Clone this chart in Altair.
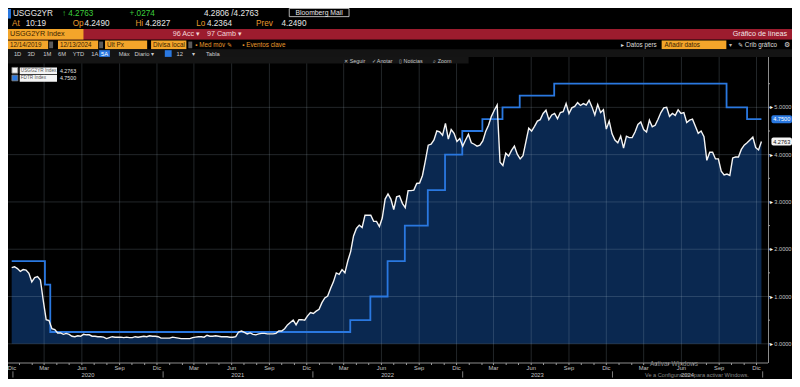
import altair as alt
import pandas as pd

# ---------------------------------------------------------------- data
# USGG2YR Index (2-year Treasury yield), weekly readings from 13 Dec 2019
usgg2yr_2019 = [1.61, 1.63, 1.59]
usgg2yr_2020 = [1.53, 1.57, 1.56, 1.49, 1.31,
                1.40, 1.42, 1.35, 0.91,
                0.51, 0.49, 0.32, 0.30,
                0.23, 0.23, 0.20, 0.22,
                0.20, 0.16, 0.15, 0.17, 0.16,
                0.20, 0.19, 0.19, 0.16,
                0.16, 0.15, 0.15, 0.14, 0.11,
                0.13, 0.15, 0.14, 0.14,
                0.14, 0.13, 0.14, 0.13,
                0.13, 0.15, 0.14, 0.15, 0.16,
                0.15, 0.17, 0.16, 0.16,
                0.15, 0.12, 0.12, 0.12]
usgg2yr_2021 = [0.12, 0.14, 0.13, 0.12, 0.11,
                0.11, 0.11, 0.11, 0.13,
                0.14, 0.15, 0.15, 0.14,
                0.18, 0.16, 0.16, 0.17, 0.16,
                0.15, 0.15, 0.15, 0.14,
                0.14, 0.15, 0.25, 0.27,
                0.24, 0.21, 0.23, 0.20, 0.19,
                0.21, 0.22, 0.22, 0.21,
                0.21, 0.21, 0.22, 0.27,
                0.27, 0.32, 0.40, 0.45, 0.50,
                0.40, 0.51, 0.51, 0.50,
                0.59, 0.66, 0.64, 0.69, 0.73]
usgg2yr_2022 = [0.87, 0.97, 1.01, 1.17,
                1.31, 1.50, 1.47, 1.57,
                1.50, 1.75, 1.95, 2.28,
                2.44, 2.51, 2.46, 2.72, 2.72,
                2.72, 2.59, 2.59, 2.48,
                2.66, 3.06, 3.17, 3.06,
                2.84, 3.11, 3.13, 2.97, 2.88,
                3.24, 3.24, 3.25, 3.39,
                3.40, 3.56, 3.87, 4.20, 4.22,
                4.31, 4.50, 4.48, 4.41,
                4.66, 4.33, 4.53, 4.45,
                4.28, 4.34, 4.18, 4.31, 4.43]
usgg2yr_2023 = [4.25, 4.22, 4.18, 4.20,
                4.29, 4.49, 4.62, 4.81,
                4.94, 5.05, 3.84, 3.77, 4.03,
                3.97, 4.09, 4.18, 4.01,
                3.91, 3.98, 4.27, 4.56,
                4.50, 4.60, 4.71, 4.74, 4.87,
                4.94, 4.74, 4.84, 4.87,
                4.76, 4.89, 4.91, 5.08,
                4.87, 4.99, 5.02, 5.10, 5.04,
                5.08, 5.05, 5.15, 5.01,
                4.84, 5.06, 4.89, 4.95,
                4.54, 4.71, 4.44, 4.31, 4.25]
usgg2yr_2024 = [4.39, 4.14, 4.39, 4.36,
                4.36, 4.48, 4.64, 4.69,
                4.53, 4.48, 4.73, 4.59, 4.62,
                4.75, 4.89, 4.99, 5.00,
                4.81, 4.87, 4.83, 4.95, 4.87,
                4.89, 4.68, 4.73, 4.75,
                4.60, 4.45, 4.50, 4.38,
                3.88, 4.05, 4.05, 3.91, 3.91,
                3.65, 3.57, 3.59, 3.56,
                3.93, 3.95, 3.95, 4.11,
                4.20, 4.25, 4.31, 4.37, 4.15,
                4.10, 4.2763]
usgg2yr = usgg2yr_2019 + usgg2yr_2020 + usgg2yr_2021 + usgg2yr_2022 + usgg2yr_2023 + usgg2yr_2024
usgg2yr_dates = pd.date_range("2019-12-13", periods=len(usgg2yr), freq="7D")

# FDTR Index (Fed funds target, upper bound) – change dates and levels
fdtr_dates = ["2019-12-13", "2020-03-03", "2020-03-16", "2022-03-17", "2022-05-05",
              "2022-06-16", "2022-07-28", "2022-09-22", "2022-11-03", "2022-12-15",
              "2023-02-02", "2023-03-23", "2023-05-04", "2023-07-27", "2024-09-19",
              "2024-11-08", "2024-12-13"]
fdtr_values = [1.75, 1.25, 0.25, 0.50, 1.00, 1.75, 2.50, 3.25, 4.00, 4.50,
               4.75, 5.00, 5.25, 5.50, 5.00, 4.75, 4.75]

last_usgg2yr = 4.2763
last_fdtr = 4.7500

month_names = ["Ene", "Feb", "Mar", "Abr", "May", "Jun", "Jul", "Ago", "Sep", "Oct", "Nov", "Dic"]
label_years = [2020, 2021, 2022, 2023, 2024]
y_label_values = [0, 1, 2, 3, 4, 5]
y_tick_values = [0, 0.5, 1, 1.5, 2, 2.5, 3, 3.5, 4, 4.5, 5, 5.5]

# ---------------------------------------------------------------- layout
W, H = 784, 371
SX, SY = W / 800.0, H / 387.0
TOP = round(51 * SY)
PW = round(776 * SX)
PH = round(370 * SY) - TOP
RIGHT = W - PW
BOTTOM = H - TOP - PH
FONT = "Liberation Sans"


def px(x):
    return x * SX


def py(y):
    return y * SY - TOP


ONE = pd.DataFrame({"k": [0]})

xscale = alt.Scale(domain=[alt.DateTime(year=2019, month=12, date=4),
                           alt.DateTime(year=2024, month=12, date=29)])
yscale = alt.Scale(domain=[-0.406, 6.065], nice=False, zero=False)


def X(f):
    return alt.X(f, type="temporal", scale=xscale, axis=None)


def Y(f):
    return alt.Y(f, type="quantitative", scale=yscale, axis=None)


def txt(x, y, s, color="#e6e6e6", size=7.0, align="left", weight="normal"):
    return alt.Chart(ONE).mark_text(text=s, align=align, baseline="middle", color=color,
                                    fontSize=size, fontWeight=weight, font=FONT).encode(
        x=alt.value(px(x)), y=alt.value(py(y)))


def box(x0, y0, x1, y1, fill, stroke="", radius=0):
    kw = {}
    if stroke:
        kw["stroke"] = stroke
        kw["strokeWidth"] = 0.8
    return alt.Chart(ONE).mark_rect(color=fill, cornerRadius=radius, **kw).encode(
        x=alt.value(px(x0)), x2=alt.value(px(x1)), y=alt.value(py(y0)), y2=alt.value(py(y1)))


# ---------------------------------------------------------------- tables
yield_df = pd.DataFrame({"date": usgg2yr_dates, "value": usgg2yr})
fdtr_df = pd.DataFrame({"date": pd.to_datetime(fdtr_dates), "value": fdtr_values})

quarter_rows = []
for yr in [2020, 2021, 2022, 2023, 2024]:
    for m in [3, 6, 9, 12]:
        quarter_rows.append({"date": pd.Timestamp(year=yr, month=m, day=1), "label": month_names[m - 1]})
quarter_df = pd.DataFrame(quarter_rows)
month_df = pd.DataFrame({"date": pd.date_range("2020-01-01", "2024-12-01", freq="MS")})
year_lab_df = pd.DataFrame({"date": [pd.Timestamp(year=y, month=6, day=16) for y in label_years],
                            "label": [str(y) for y in label_years]})
year_sep_df = pd.DataFrame({"date": [pd.Timestamp(year=y, month=12, day=16) for y in range(2019, 2025)]})
ylab_df = pd.DataFrame({"v": y_label_values, "label": ["%.4f" % v for v in y_label_values]})
ytick_df = pd.DataFrame({"v": y_tick_values})
tags_df = pd.DataFrame({"v": [last_fdtr, last_usgg2yr],
                        "label": ["%.4f" % last_fdtr, "%.4f" % last_usgg2yr],
                        "kind": ["fdtr", "usgg"]})

layers = []

# area under the yield
layers.append(alt.Chart(yield_df).mark_area(color="#0a2850", opacity=1).encode(
    x=X("date"), y=Y("value"), y2=alt.value(PH)))

# grid
layers.append(alt.Chart(quarter_df).mark_rule(color="#a8bccf", opacity=0.2, strokeWidth=1).encode(
    x=X("date"), y=alt.value(0), y2=alt.value(PH)))
layers.append(alt.Chart(ylab_df).mark_rule(color="#a8bccf", opacity=0.2, strokeWidth=1).encode(
    y=Y("v"), x=alt.value(0), x2=alt.value(PW)))

# lines
layers.append(alt.Chart(fdtr_df).mark_line(interpolate="step-after", color="#2a78e0", strokeWidth=1.8).encode(
    x=X("date"), y=Y("value")))
layers.append(alt.Chart(yield_df).mark_line(color="#f4f4f4", strokeWidth=1.4).encode(
    x=X("date"), y=Y("value")))

# x axis (manual)
layers.append(alt.Chart(ONE).mark_rule(color="#8c8c8c", strokeWidth=1).encode(
    x=alt.value(0), x2=alt.value(PW), y=alt.value(PH)))
layers.append(alt.Chart(month_df).mark_rule(color="#9a9a9a", strokeWidth=1).encode(
    x=X("date"), y=alt.value(PH), y2=alt.value(PH + 2)))
layers.append(alt.Chart(quarter_df).mark_text(color="#c4c4c4", fontSize=5.8, font=FONT, baseline="middle").encode(
    x=X("date"), y=alt.value(py(375.5)), text="label:N"))
layers.append(txt(4, 375.5, "Dic", color="#c4c4c4", size=5.8, align="center"))
layers.append(alt.Chart(year_lab_df).mark_text(color="#c4c4c4", fontSize=5.8, font=FONT, baseline="middle").encode(
    x=X("date"), y=alt.value(py(382.5)), text="label:N"))
layers.append(alt.Chart(year_sep_df).mark_rule(color="#9a9a9a", strokeWidth=0.8).encode(
    x=X("date"), y=alt.value(py(379)), y2=alt.value(py(385.5))))

# y axis on the right (manual)
layers.append(alt.Chart(ONE).mark_rule(color="#8c8c8c", strokeWidth=1).encode(
    x=alt.value(PW + 0.5), y=alt.value(0), y2=alt.value(PH)))
layers.append(alt.Chart(ytick_df).mark_rule(color="#9a9a9a", strokeWidth=1).encode(
    y=Y("v"), x=alt.value(PW), x2=alt.value(PW + 2)))
layers.append(alt.Chart(ylab_df).mark_text(text="▸", color="#ffffff", fontSize=5.5, font=FONT,
                                           align="left", baseline="middle").encode(
    y=Y("v"), x=alt.value(px(778))))
layers.append(alt.Chart(ylab_df).mark_text(color="#c4c4c4", fontSize=5.6, font=FONT,
                                           align="left", baseline="middle").encode(
    y=Y("v"), x=alt.value(px(782)), text="label:N"))

# last-value tags on the right axis
tag_base = alt.Chart(tags_df).transform_calculate(lo="datum.v - 0.085", hi="datum.v + 0.085")
layers.append(tag_base.transform_filter("datum.kind == 'fdtr'").mark_rect(color="#2a78e0", cornerRadius=2).encode(
    y=Y("lo:Q"), y2="hi:Q", x=alt.value(px(779)), x2=alt.value(px(800))))
layers.append(tag_base.transform_filter("datum.kind == 'usgg'").mark_rect(color="#f4f4f4", cornerRadius=2).encode(
    y=Y("lo:Q"), y2="hi:Q", x=alt.value(px(779)), x2=alt.value(px(800))))
layers.append(tag_base.transform_filter("datum.kind == 'fdtr'").mark_text(color="#ffffff", fontSize=5.6, font=FONT, align="center", baseline="middle").encode(
    y=Y("v:Q"), x=alt.value(px(789.5)), text="label:N"))
layers.append(tag_base.transform_filter("datum.kind == 'usgg'").mark_text(color="#111111", fontSize=5.6, font=FONT, align="center", baseline="middle").encode(
    y=Y("v:Q"), x=alt.value(px(789.5)), text="label:N"))

# ---------------------------------------------------------------- header
ORANGE = "#f3a52a"
AMBER = "#e89a2c"
GREEN = "#3ccf3c"
DARK = "#3a2200"

layers += [
    box(0, 0, 800, 22, "#000000"),
    box(0, 1, 3, 11, "#2a78e0"),
    txt(5, 6, "USGG2YR", size=8.2),
    txt(55, 6, "↑ 4.2763", color=GREEN, size=8.2),
    txt(124, 6, "+.0274", color=GREEN, size=8.2),
    txt(200, 6, "4.2806 /4.2763", size=8.2),
    box(287, 0.5, 348, 9, "#000000", stroke="#dddddd"),
    txt(317.5, 5, "Bloomberg Mail", size=6.8, align="center"),
    txt(4, 17, "At", color=AMBER, size=8.2), txt(18, 17, "10:19", size=8.2),
    txt(66, 17, "Op", color=AMBER, size=8.2), txt(78, 17, "4.2490", size=8.2),
    txt(130, 17, "Hi", color=AMBER, size=8.2), txt(140, 17, "4.2827", size=8.2),
    txt(192, 17, "Lo", color=AMBER, size=8.2), txt(203, 17, "4.2364", size=8.2),
    txt(253, 17, "Prev", color=AMBER, size=8.2), txt(279, 17, "4.2490", size=8.2),
    # red bar
    box(0, 22, 800, 33, "#9c1c2e"),
    box(0, 22, 77, 33, ORANGE),
    txt(2, 27.5, "USGG2YR Index", color=DARK, size=7.2),
    txt(168, 27.5, "96 Acc ▾", color="#f3d6d6", size=7.2),
    txt(203, 27.5, "97 Camb ▾", color="#f3d6d6", size=7.2),
    txt(795, 27.5, "Gráfico de líneas", color="#f3e6e6", size=7.2, align="right"),
    # option row
    box(0, 33, 800, 43, "#000000"),
    box(0, 34, 41, 43, ORANGE), txt(2, 38.5, "12/14/2019", color=DARK, size=6.3),
    box(42, 35, 46, 42, "#5a5a5a"),
    box(51, 34, 92, 43, ORANGE), txt(53, 38.5, "12/13/2024", color=DARK, size=6.3),
    box(93, 35, 97, 42, "#5a5a5a"),
    box(99, 34, 142, 43, ORANGE), txt(101, 38.5, "Últ Px", color=DARK, size=6.3),
    box(146, 34, 182, 43, ORANGE), txt(148, 38.5, "Divisa local", color=DARK, size=6.3),
    box(184, 35, 188, 42, "#5a5a5a"),
    txt(191, 38.5, "▪ Med móv ✎", color=AMBER, size=6.3),
    txt(239, 38.5, "▪ Eventos clave", color=AMBER, size=6.3),
    txt(626, 38.5, "▸ Datos pers", color="#dddddd", size=6.3),
    box(667, 34, 733, 43, ORANGE), txt(670, 38.5, "Añadir datos", color=DARK, size=6.3),
    txt(736, 38.5, "▾", color="#bbbbbb", size=6.3),
    txt(745, 38.5, "✎ Crib gráfico", color="#dddddd", size=6.3),
    txt(795, 38.5, "⚙", color="#dddddd", size=6.5, align="center"),
    # period row
    box(0, 43, 800, 51, "#141414"),
    box(93, 44, 104, 51, "#2a78e0"),
    box(160, 44, 167, 51, "#2a78e0"),
    txt(6, 47.5, "1D", color="#cccccc", size=5.8),
    txt(20, 47.5, "3D", color="#cccccc", size=5.8),
    txt(36, 47.5, "1M", color="#cccccc", size=5.8),
    txt(51, 47.5, "6M", color="#cccccc", size=5.8),
    txt(66, 47.5, "YTD", color="#cccccc", size=5.8),
    txt(85, 47.5, "1A", color="#cccccc", size=5.8),
    txt(95, 47.5, "5A", color="#ffffff", size=5.8),
    txt(113, 47.5, "Máx", color="#cccccc", size=5.8),
    txt(129, 47.5, "Diario ▾", color="#cccccc", size=5.8),
    txt(172, 47.5, "12", color="#cccccc", size=5.8),
    txt(188, 47.5, "▾", color="#cccccc", size=5.8),
    txt(202, 47.5, "Tabla", color="#cccccc", size=5.8),
    # chart toolbar
    box(0, 51, 470, 58, "#151515"),
    txt(343, 55, "✕ Seguir", color="#c8c8c8", size=5.4),
    txt(371, 55, "✓ Anotar", color="#c8c8c8", size=5.4),
    txt(399, 55, "▯ Noticias", color="#c8c8c8", size=5.4),
    txt(434, 55, "⌕ Zoom", color="#c8c8c8", size=5.4),
]

# legend
layers += [
    box(4, 62, 10, 68, "#f4f4f4", stroke="#888888"),
    box(12, 62, 50, 69, "#f4f4f4"),
    txt(13, 65.5, "USGG2YR Index", color="#555555", size=4.7),
    txt(53, 65.5, "4.2763", color="#e6e6e6", size=5.3),
    box(4, 70, 10, 76, "#2a78e0", stroke="#888888"),
    box(12, 70, 50, 77, "#f4f4f4"),
    txt(13, 73.5, "FDTR Index", color="#555555", size=4.7),
    txt(53, 73.5, "4.7500", color="#e6e6e6", size=5.3),
]

# watermark
layers += [
    txt(655, 371, "Activar Windows", color="#8a8a8a", size=6.5),
    txt(650, 383, "Ve a Configuración para activar Windows.", color="#8a8a8a", size=5.6),
]

chart = alt.layer(*layers).properties(
    width=PW, height=PH,
    autosize=alt.AutoSizeParams(type="none"),
    padding={"left": 0, "top": TOP, "right": RIGHT, "bottom": BOTTOM},
).configure(background="#000000").configure_view(strokeWidth=0, fill="#000000")

chart.save("out.html", embed_options={"renderer": "svg", "actions": False})
